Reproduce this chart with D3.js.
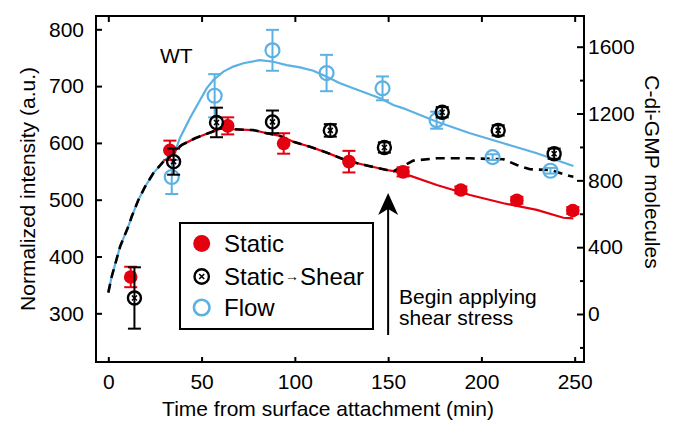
<!DOCTYPE html>
<html>
<head>
<meta charset="utf-8">
<script src="https://cdn.jsdelivr.net/npm/d3@7"></script>
<style>
  body { margin: 0; background: white; }
  text { font-family: "Liberation Sans", Arial, Helvetica, sans-serif; fill: black; }
</style>
</head>
<body>
<div id="viz1-container"></div>
<script>
let svgWidth = 674;
let svgHeight = 421;

// measured points (normalized intensity, a.u.)
let staticX = [12, 33, 64, 94, 129, 158, 189, 219, 249];
let staticY = [364, 587, 630, 599, 567, 549, 517, 499, 481];
let staticErr = [18, 17, 15, 18, 19, 8, 6, 6, 6];

let shearX = [14, 35, 58, 88, 119, 148, 179, 209, 239];
let shearY = [327, 567, 636, 637, 622, 592, 654, 622, 581];
let shearErr = [54, 23, 26, 20, 11, 9, 9, 9, 9];

let flowX = [34, 57, 88, 117, 147, 176, 206, 237];
let flowY = [540, 683, 763, 723, 696, 640, 575, 551];
let flowErr = [30, 38, 36, 32, 21, 15, 5, 5];

// model curves (c-di-GMP molecules)
let riseT = [0, 1.8, 6.3, 10.7, 12.5, 16.1, 19.7, 24.1, 29.5, 34];
let riseM = [128, 223, 403, 523, 582, 682, 762, 842, 912, 962];

let staticT = [34, 39.4, 46.5, 53.6, 60.8, 67, 77.7, 84.9, 92, 99.2, 108.1, 117.1, 127.8, 138.5, 149.3, 153, 158.2, 176.1, 193.9, 211.8, 229.7, 243.9, 249.3];
let staticM = [962, 1012, 1052, 1082, 1112, 1106, 1101, 1082, 1066, 1031, 1001, 966, 918, 889, 862, 855, 842, 772, 712, 663, 623, 576, 573];

let flowT = [34, 36.7, 38.4, 43.8, 49.2, 52.8, 56.3, 61.7, 67, 72.4, 81.3, 88.5, 95.6, 102.8, 109.9, 117.1, 124.2, 131.3, 138.5, 145.7, 152.8, 158.2, 176.1, 193.9, 211.8, 229.7, 249.3];
let flowM = [962, 1001, 1054, 1173, 1281, 1352, 1401, 1451, 1481, 1501, 1520, 1510, 1490, 1476, 1456, 1420, 1381, 1351, 1321, 1291, 1251, 1231, 1151, 1082, 1022, 962, 886];

let shearT = [153, 158, 163.5, 176.1, 193.9, 211.8, 219, 226.1, 236.8, 247.5, 249.3];
let shearM = [855, 885, 918, 932, 932, 926, 892, 866, 862, 826, 822];

let xTicks = [0, 50, 100, 150, 200, 250];
let leftTicks = [300, 400, 500, 600, 700, 800];
let rightTicks = [0, 400, 800, 1200, 1600];
let rightMinor = [-200, 200, 600, 1000, 1400];

let legendLabels = ["Static", "Static", "Flow"];

let red = "#e3000f";
let blue = "#5cb1e3";

let plotLeft = 96, plotRight = 584, plotTop = 16, plotBottom = 362;

let x = d3.scaleLinear().domain([-6.6, 255]).range([plotLeft, plotRight]);
let yL = d3.scaleLinear().domain([214.3, 823.4]).range([plotBottom, plotTop]);
let yR = d3.scaleLinear().domain([-287.3, 1783.8]).range([plotBottom, plotTop]);

let viz = d3.select("#viz1-container")
  .append("svg")
    .attr("width", svgWidth)
    .attr("height", svgHeight)
    ;

function zip(a, b) {
  return a.map(function(d, i){ return [d, b[i]]; });
}

let line = d3.line()
  .x(function(d){ return x(d[0]); })
  .y(function(d){ return yR(d[1]); });

let lineLayer = viz.append("g");
let markLayer = viz.append("g");

// blue, red, black dashed
lineLayer.append("path")
  .attr("d", line(zip(riseT, riseM).concat(zip(flowT, flowM).slice(1))))
  .attr("fill", "none").attr("stroke", blue).attr("stroke-width", 2.2);

lineLayer.append("path")
  .attr("d", line(zip(staticT, staticM)))
  .attr("fill", "none").attr("stroke", red).attr("stroke-width", 2.2);

let dashedPts = zip(riseT, riseM)
  .concat(zip(staticT, staticM).filter(function(d){ return d[0] > 34 && d[0] < 153; }))
  .concat(zip(shearT, shearM));
lineLayer.append("path")
  .attr("d", line(dashedPts))
  .attr("fill", "none").attr("stroke", "black").attr("stroke-width", 2.6)
  .attr("stroke-dasharray", "9,6");

function errorBars(g, xs, ys, errs, color) {
  let grp = g.append("g").attr("stroke", color).attr("stroke-width", 2);
  xs.forEach(function(d, i){
    let cx = x(d);
    let y1 = yL(ys[i] - errs[i]);
    let y2 = yL(ys[i] + errs[i]);
    grp.append("line").attr("x1", cx).attr("x2", cx).attr("y1", y1).attr("y2", y2);
    grp.append("line").attr("x1", cx - 6.5).attr("x2", cx + 6.5).attr("y1", y1).attr("y2", y1);
    grp.append("line").attr("x1", cx - 6.5).attr("x2", cx + 6.5).attr("y1", y2).attr("y2", y2);
  });
}

function crossMark(g, cx, cy, r) {
  g.append("circle").attr("cx", cx).attr("cy", cy).attr("r", r)
    .attr("fill", "none").attr("stroke", "black").attr("stroke-width", 2.4);
  g.append("path")
    .attr("d", "M" + (cx - 2.5) + "," + (cy - 2.5) + "L" + (cx + 2.5) + "," + (cy + 2.5) +
               "M" + (cx - 2.5) + "," + (cy + 2.5) + "L" + (cx + 2.5) + "," + (cy - 2.5))
    .attr("stroke", "black").attr("stroke-width", 1.6);
}

// flow
errorBars(markLayer, flowX, flowY, flowErr, blue);
markLayer.append("g").selectAll("circle").data(zip(flowX, flowY)).enter()
  .append("circle")
    .attr("cx", function(d){ return x(d[0]); })
    .attr("cy", function(d){ return yL(d[1]); })
    .attr("r", 7)
    .attr("fill", "none")
    .attr("stroke", blue)
    .attr("stroke-width", 2.2);

// static
errorBars(markLayer, staticX, staticY, staticErr, red);
markLayer.append("g").selectAll("circle").data(zip(staticX, staticY)).enter()
  .append("circle")
    .attr("cx", function(d){ return x(d[0]); })
    .attr("cy", function(d){ return yL(d[1]); })
    .attr("r", 6.8)
    .attr("fill", red);

// static -> shear
errorBars(markLayer, shearX, shearY, shearErr, "black");
shearX.forEach(function(d, i){
  crossMark(markLayer, x(d), yL(shearY[i]), 6.5);
});

// axes
let axisBottom = d3.axisBottom(x).tickValues(xTicks).tickSize(-5).tickSizeOuter(0).tickPadding(12);
let axisTop = d3.axisTop(x).tickValues(xTicks).tickSize(-6).tickSizeOuter(0).tickFormat("");
let axisLeft = d3.axisLeft(yL).tickValues(leftTicks).tickSize(-6).tickSizeOuter(0).tickPadding(12);
let axisRight = d3.axisRight(yR).tickValues(rightTicks).tickSize(-7).tickSizeOuter(0).tickPadding(4).tickFormat(d3.format("d"));
let axisRightMinor = d3.axisRight(yR).tickValues(rightMinor).tickSize(-4).tickSizeOuter(0).tickFormat("");

function styleAxis(g) {
  g.select(".domain").remove();
  g.selectAll(".tick line").attr("stroke", "black").attr("stroke-width", 2);
  g.selectAll(".tick text")
    .style("font-size", "21px")
    .style("font-family", "'Liberation Sans', Arial, sans-serif")
    .attr("fill", "black");
}

viz.append("g").attr("transform", "translate(0," + plotBottom + ")").call(axisBottom).call(styleAxis);
viz.append("g").attr("transform", "translate(0," + plotTop + ")").call(axisTop).call(styleAxis);
viz.append("g").attr("transform", "translate(" + plotLeft + ",0)").call(axisLeft).call(styleAxis);
viz.append("g").attr("transform", "translate(" + plotRight + ",0)").call(axisRight).call(styleAxis);
viz.append("g").attr("transform", "translate(" + plotRight + ",0)").call(axisRightMinor).call(styleAxis);

viz.append("rect")
  .attr("x", plotLeft).attr("y", plotTop)
  .attr("width", plotRight - plotLeft).attr("height", plotBottom - plotTop)
  .attr("fill", "none").attr("stroke", "black").attr("stroke-width", 2);

// labels
viz.append("text")
  .attr("x", 328).attr("y", 416)
  .attr("text-anchor", "middle")
  .style("font-size", "21px")
  .text("Time from surface attachment (min)");

viz.append("text")
  .attr("transform", "translate(35,189) rotate(-90)")
  .attr("text-anchor", "middle")
  .style("font-size", "21px")
  .text("Normalized intensity (a.u.)");

viz.append("text")
  .attr("transform", "translate(645,172) rotate(90)")
  .attr("text-anchor", "middle")
  .style("font-size", "21px")
  .text("C-di-GMP molecules");

viz.append("text")
  .attr("x", 160).attr("y", 63)
  .style("font-size", "21px")
  .text("WT");

// shear arrow
let ax = x(150);
viz.append("line")
  .attr("x1", ax).attr("x2", ax).attr("y1", 335).attr("y2", 205)
  .attr("stroke", "black").attr("stroke-width", 2);
viz.append("path")
  .attr("d", "M" + ax + ",193L" + (ax - 10) + ",215L" + ax + ",209L" + (ax + 10) + ",215Z")
  .attr("fill", "black");

let note = viz.append("text").style("font-size", "21px");
note.append("tspan").attr("x", 399).attr("y", 304).text("Begin applying");
note.append("tspan").attr("x", 399).attr("y", 325).text("shear stress");

// legend
let legend = viz.append("g");
legend.append("rect")
  .attr("x", 180).attr("y", 223).attr("width", 193).attr("height", 106)
  .attr("fill", "white").attr("stroke", "black").attr("stroke-width", 2);

let rowY = [243.5, 276.5, 307.5];
legend.append("circle").attr("cx", 201.7).attr("cy", rowY[0]).attr("r", 8.5).attr("fill", red);
crossMark(legend, 201.7, rowY[1], 7.2);
legend.append("circle").attr("cx", 201.7).attr("cy", rowY[2]).attr("r", 7.8)
  .attr("fill", "none").attr("stroke", blue).attr("stroke-width", 2.6);

legendLabels.forEach(function(d, i){
  let t = legend.append("text")
    .attr("x", 224).attr("y", rowY[i]).attr("dy", "0.36em")
    .style("font-size", "24px")
    .text(d);
  if (i == 1) {
    t.append("tspan").attr("dx", 1).attr("dy", -4).style("font-size", "14px").text("→");
    t.append("tspan").attr("dx", 1).attr("dy", 4).text("Shear");
  }
});
</script>
</body>
</html>
